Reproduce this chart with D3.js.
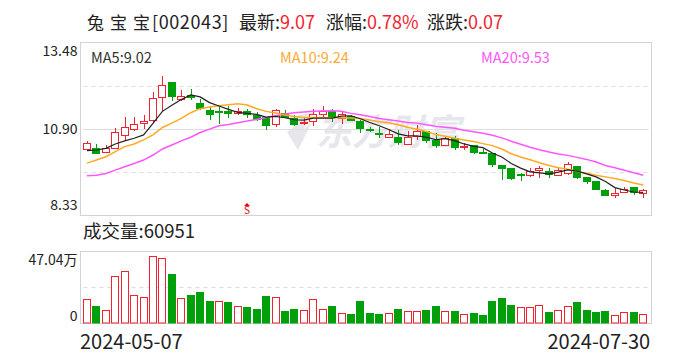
<!DOCTYPE html>
<html>
<head>
<meta charset="utf-8">
<script src="https://cdn.jsdelivr.net/npm/d3@7"></script>
<style>
  html, body { margin: 0; padding: 0; background: #fff; }
  text { font-family: "Noto Sans CJK SC", "Noto Sans", sans-serif; }
</style>
</head>
<body>
<div id="chart"></div>
<script>
const dates = [
  "2024-05-07","2024-05-08","2024-05-09","2024-05-10","2024-05-13","2024-05-14","2024-05-15","2024-05-16","2024-05-17","2024-05-20",
  "2024-05-21","2024-05-22","2024-05-23","2024-05-24","2024-05-27","2024-05-28","2024-05-29","2024-05-30","2024-05-31","2024-06-03",
  "2024-06-04","2024-06-05","2024-06-06","2024-06-07","2024-06-11","2024-06-12","2024-06-13","2024-06-14","2024-06-17","2024-06-18",
  "2024-06-19","2024-06-20","2024-06-21","2024-06-24","2024-06-25","2024-06-26","2024-06-27","2024-06-28","2024-07-01","2024-07-02",
  "2024-07-03","2024-07-04","2024-07-05","2024-07-08","2024-07-09","2024-07-10","2024-07-11","2024-07-12","2024-07-15","2024-07-16",
  "2024-07-17","2024-07-18","2024-07-19","2024-07-22","2024-07-23","2024-07-24","2024-07-25","2024-07-26","2024-07-29","2024-07-30"
];

const open = [
  10.30,10.33,10.20,10.33,10.72,10.90,11.07,11.16,11.85,12.30,
  11.78,11.91,11.65,11.47,11.44,11.42,11.36,11.44,11.30,11.24,
  11.04,11.37,11.22,11.08,11.13,11.35,11.42,11.22,11.27,11.13,
  10.90,10.78,10.65,10.64,10.45,10.69,10.84,10.56,10.42,10.62,
  10.34,10.41,10.22,10.19,9.83,9.72,9.54,9.52,9.67,9.65,
  9.53,9.59,9.79,9.45,9.33,9.06,8.92,9.02,9.17,8.99
];
const close = [
  10.48,10.17,10.31,10.80,10.95,11.04,11.13,11.82,12.20,11.87,
  11.88,11.85,11.51,11.33,11.39,11.36,11.43,11.33,11.19,11.00,
  11.45,11.24,11.03,11.11,11.34,11.42,11.24,11.34,11.15,10.92,
  10.87,10.74,10.75,10.50,10.66,10.84,10.56,10.41,10.62,10.35,
  10.37,10.22,10.19,9.84,9.72,9.42,9.51,9.64,9.72,9.55,
  9.67,9.85,9.46,9.33,9.10,8.94,8.99,9.11,9.01,9.07
];
const high = [
  10.55,10.45,10.43,10.93,11.27,11.27,11.32,12.00,12.48,12.30,
  12.07,12.09,11.79,11.57,11.62,11.60,11.52,11.49,11.42,11.27,
  11.50,11.47,11.32,11.22,11.50,11.59,11.50,11.40,11.32,11.17,
  10.95,10.95,10.90,10.88,10.84,11.02,10.84,10.78,10.68,10.70,
  10.48,10.43,10.30,10.19,9.83,9.72,9.59,9.74,9.81,9.74,
  9.77,9.91,9.79,9.47,9.36,9.12,9.14,9.17,9.17,9.11
];
const low = [
  10.30,10.15,10.20,10.33,10.58,10.85,10.91,11.12,11.42,11.75,
  11.75,11.77,11.47,11.17,11.05,11.22,11.32,11.22,11.15,10.87,
  10.95,11.22,11.00,11.02,10.99,11.27,11.12,11.05,11.15,10.79,
  10.82,10.64,10.64,10.43,10.43,10.58,10.48,10.34,10.41,10.28,
  10.28,10.16,10.15,9.77,9.39,9.39,9.36,9.48,9.46,9.45,
  9.51,9.54,9.42,9.27,9.09,8.91,8.86,9.01,8.94,8.86
];

const ma5 = [
  10.26,10.28,10.33,10.46,10.55,10.63,10.73,11.07,11.43,11.61,
  11.78,11.92,11.86,11.69,11.59,11.49,11.40,11.37,11.34,11.26,
  11.28,11.24,11.18,11.17,11.23,11.23,11.23,11.29,11.30,11.21,
  11.10,11.00,10.89,10.76,10.70,10.70,10.66,10.59,10.62,10.56,
  10.46,10.39,10.35,10.19,10.07,9.88,9.74,9.63,9.60,9.57,
  9.62,9.69,9.65,9.57,9.48,9.34,9.16,9.09,9.03,9.02
];
const ma10 = [
  9.89,9.98,10.08,10.23,10.38,10.46,10.58,10.73,10.95,11.08,
  11.22,11.39,11.51,11.56,11.60,11.63,11.66,11.62,11.51,11.43,
  11.38,11.32,11.28,11.25,11.25,11.25,11.24,11.24,11.23,11.22,
  11.17,11.12,11.09,11.03,10.96,10.90,10.83,10.74,10.69,10.63,
  10.58,10.53,10.47,10.41,10.31,10.17,10.07,9.99,9.90,9.82,
  9.75,9.71,9.64,9.59,9.53,9.48,9.43,9.37,9.30,9.24
];
const ma20 = [
  9.51,9.53,9.58,9.68,9.78,9.88,9.98,10.13,10.31,10.43,
  10.55,10.66,10.80,10.90,11.00,11.04,11.09,11.14,11.19,11.25,
  11.30,11.35,11.39,11.41,11.43,11.44,11.45,11.43,11.37,11.33,
  11.28,11.22,11.18,11.14,11.10,11.08,11.03,10.99,10.96,10.93,
  10.87,10.82,10.78,10.72,10.64,10.54,10.45,10.36,10.29,10.22,
  10.16,10.12,10.06,10.00,9.92,9.82,9.75,9.68,9.60,9.53
];

// 万手
const volume = [
  15.46,10.89,8.28,30.49,33.76,18.08,16.77,43.56,42.25,32.02,
  16.12,18.30,20.26,14.37,14.16,13.72,10.89,10.45,9.15,17.64,
  16.77,7.84,9.15,8.28,15.46,8.93,11.11,6.32,5.88,14.37,
  6.53,5.88,6.32,9.15,7.62,7.62,8.49,11.11,7.62,7.84,
  5.66,6.53,5.23,14.37,16.34,11.76,10.24,10.24,11.54,7.19,
  8.28,10.89,13.72,8.49,7.19,7.84,5.01,6.97,7.19,6.10
];
// 1 = red, 0 = green (not always the same as the candle)
const volumeUp = [
  1,0,1,1,1,1,1,1,1,0,
  1,0,0,0,1,0,1,0,0,0,
  1,0,0,1,1,1,0,1,0,0,
  0,0,1,0,1,1,0,0,1,0,
  1,0,0,0,0,0,1,1,1,0,
  1,1,0,0,0,0,1,1,0,1
];

const priceTicks = [13.48, 10.90, 8.33];
const volumeTicks = [47.04, 0];
const dateTicks = ["2024-05-07", "2024-07-30"];
const signalDates = ["2024-05-30"];

const RED = "#f2222e";
const GREEN = "#00a00a";
const GRID = "#dedede";
const FRAME = "#d2d2da";

const width = 688, height = 360;
const left = 80.5, right = 651.5;
const priceTop = 42.5, priceBottom = 215.5;
const volTop = 251.5, volBottom = 323.5;

const svg = d3.select("#chart").append("svg")
  .attr("width", width)
  .attr("height", height)
  .style("display", "block");

const x = d3.scaleBand().domain(dates).range([82.3, 647.9]);
const y = d3.scaleLinear().domain([8.33, 13.48]).range([priceBottom, priceTop]);
const yVol = d3.scaleLinear().domain([0, 47.04]).range([volBottom, volTop]);
const cx = d => x(d) + x.bandwidth() / 2;
const barW = 7;
const snap = v => Math.round(v - 0.5) + 0.5;

// title row
const title = svg.append("text").attr("y", 29).attr("font-size", 18).attr("fill", "#222");
title.append("tspan").attr("x", 87).attr("font-size", 17).text("兔");
title.append("tspan").attr("x", 110).attr("font-size", 17).text("宝");
title.append("tspan").attr("x", 133).attr("font-size", 17).text("宝");
title.append("tspan").attr("x", 152).attr("letter-spacing", 0.6).text("[002043]");
title.append("tspan").attr("x", 239).text("最新:");
title.append("tspan").attr("fill", RED).text("9.07");
title.append("tspan").attr("x", 326).text("涨幅:");
title.append("tspan").attr("fill", RED).text("0.78%");
title.append("tspan").attr("x", 427).text("涨跌:");
title.append("tspan").attr("fill", RED).text("0.07");

// watermark
const mark = svg.append("g").attr("fill", "#e6e6ec");
mark.append("path")
  .attr("d", "M285 118 L314 112 L303 130 L312 122 L298 150 L287 132 L298 124 Z");
mark.append("text")
  .attr("x", 316).attr("y", 145)
  .attr("font-size", 36).attr("font-weight", 700)
  .attr("font-style", "italic")
  .text("东方财富");

// frames and grid
function frame(top, bottom) {
  svg.append("rect")
    .attr("x", left).attr("y", top)
    .attr("width", right - left).attr("height", bottom - top)
    .attr("fill", "none").attr("stroke", FRAME);
}
function gridLine(yPos, dashed) {
  svg.append("line")
    .attr("x1", left + 3).attr("x2", right - 3)
    .attr("y1", yPos).attr("y2", yPos)
    .attr("stroke", GRID)
    .attr("stroke-dasharray", dashed ? "4,4" : null);
}
frame(priceTop, priceBottom);
frame(volTop, volBottom);
gridLine(86.5, true);
gridLine(129.5, false);
gridLine(172.5, true);
gridLine(287.5, true);

// candles
const candle = svg.append("g").selectAll("g")
  .data(dates)
  .enter()
  .append("g");

candle.append("line")
  .attr("x1", d => Math.round(cx(d)) + 0.5)
  .attr("x2", d => Math.round(cx(d)) + 0.5)
  .attr("y1", (d, i) => Math.round(y(high[i])))
  .attr("y2", (d, i) => Math.round(y(low[i])))
  .attr("stroke", (d, i) => close[i] >= open[i] ? RED : GREEN);

const barX = d => Math.round(cx(d)) - barW / 2;

candle.append("rect")
  .attr("x", barX)
  .attr("y", (d, i) => snap(y(Math.max(open[i], close[i]))))
  .attr("width", barW)
  .attr("height", (d, i) => snap(y(Math.min(open[i], close[i]))) - snap(y(Math.max(open[i], close[i]))))
  .attr("fill", (d, i) => close[i] >= open[i] ? "#fff" : GREEN)
  .attr("stroke", (d, i) => close[i] >= open[i] ? RED : GREEN);

// moving averages
const maLine = values => d3.line()
  .x(d => cx(d))
  .y((d, i) => y(values[i]))(dates);

[[ma20, "#ff55ff", 1.5], [ma10, "#ffaa22", 1.5], [ma5, "#222222", 1.2]].forEach(([values, col, sw]) => {
  svg.append("path")
    .attr("d", maLine(values))
    .attr("fill", "none")
    .attr("stroke", col)
    .attr("stroke-width", sw);
});

// legend
[["MA5:9.02", 91, "#333"], ["MA10:9.24", 280, "#ffaa33"], ["MA20:9.53", 481, "#ff55ff"]].forEach(([txt, xPos, col]) => {
  svg.append("text")
    .attr("x", xPos).attr("y", 63)
    .attr("font-size", 14.5)
    .attr("fill", col)
    .text(txt);
});

// signal marker
const sig = svg.append("g").selectAll("g")
  .data(signalDates)
  .enter()
  .append("g")
  .attr("transform", d => `translate(${Math.round(cx(d))},215)`);
sig.append("path").attr("d", "M0 -12 L3 -9 L-3 -9 Z").attr("fill", "#f00000");
sig.append("text")
  .attr("y", -1)
  .attr("text-anchor", "middle")
  .attr("font-size", 10)
  .attr("fill", "#f00000")
  .text("S");

// price axis
const priceAxis = svg.append("g")
  .attr("transform", `translate(${left},0)`)
  .call(d3.axisLeft(y).tickValues(priceTicks).tickFormat(d3.format(".2f")).tickSize(0).tickPadding(3));
priceAxis.select(".domain").remove();
priceAxis.selectAll("text")
  .attr("font-size", 14)
  .attr("font-family", null)
  .attr("fill", "#222")
  .attr("dy", d => d === 13.48 ? "0.95em" : d === 8.33 ? "-0.4em" : "0.32em");

svg.append("text")
  .attr("x", 83).attr("y", 238)
  .attr("font-size", 18.5)
  .attr("fill", "#222")
  .text("成交量:60951");

// volume bars
svg.append("g").selectAll("rect")
  .data(dates)
  .enter()
  .append("rect")
  .attr("x", barX)
  .attr("y", (d, i) => snap(yVol(volume[i])))
  .attr("width", barW)
  .attr("height", (d, i) => 323 - snap(yVol(volume[i])))
  .attr("fill", (d, i) => volumeUp[i] ? "#fff" : GREEN)
  .attr("stroke", (d, i) => volumeUp[i] ? RED : GREEN);

// volume axis
const volAxis = svg.append("g")
  .attr("transform", `translate(${left},0)`)
  .call(d3.axisLeft(yVol).tickValues(volumeTicks)
    .tickFormat(d => d === 0 ? "0" : d3.format(".2f")(d) + "万")
    .tickSize(0).tickPadding(3));
volAxis.select(".domain").remove();
volAxis.selectAll("text")
  .attr("font-size", 14)
  .attr("font-family", null)
  .attr("fill", "#222")
  .attr("dy", d => d === 0 ? "-0.2em" : "0.95em");

// date axis
const dateAxis = svg.append("g")
  .attr("transform", `translate(0,${volBottom})`)
  .call(d3.axisBottom(x).tickValues(dateTicks).tickSize(0).tickPadding(11));
dateAxis.select(".domain").remove();
dateAxis.selectAll("text")
  .attr("font-size", 20)
  .attr("font-family", null)
  .attr("fill", "#222")
  .attr("text-anchor", (d, i) => i === 0 ? "start" : "end")
  .attr("dx", (d, i) => i === 0 ? -7 : 7);
</script>
</body>
</html>
